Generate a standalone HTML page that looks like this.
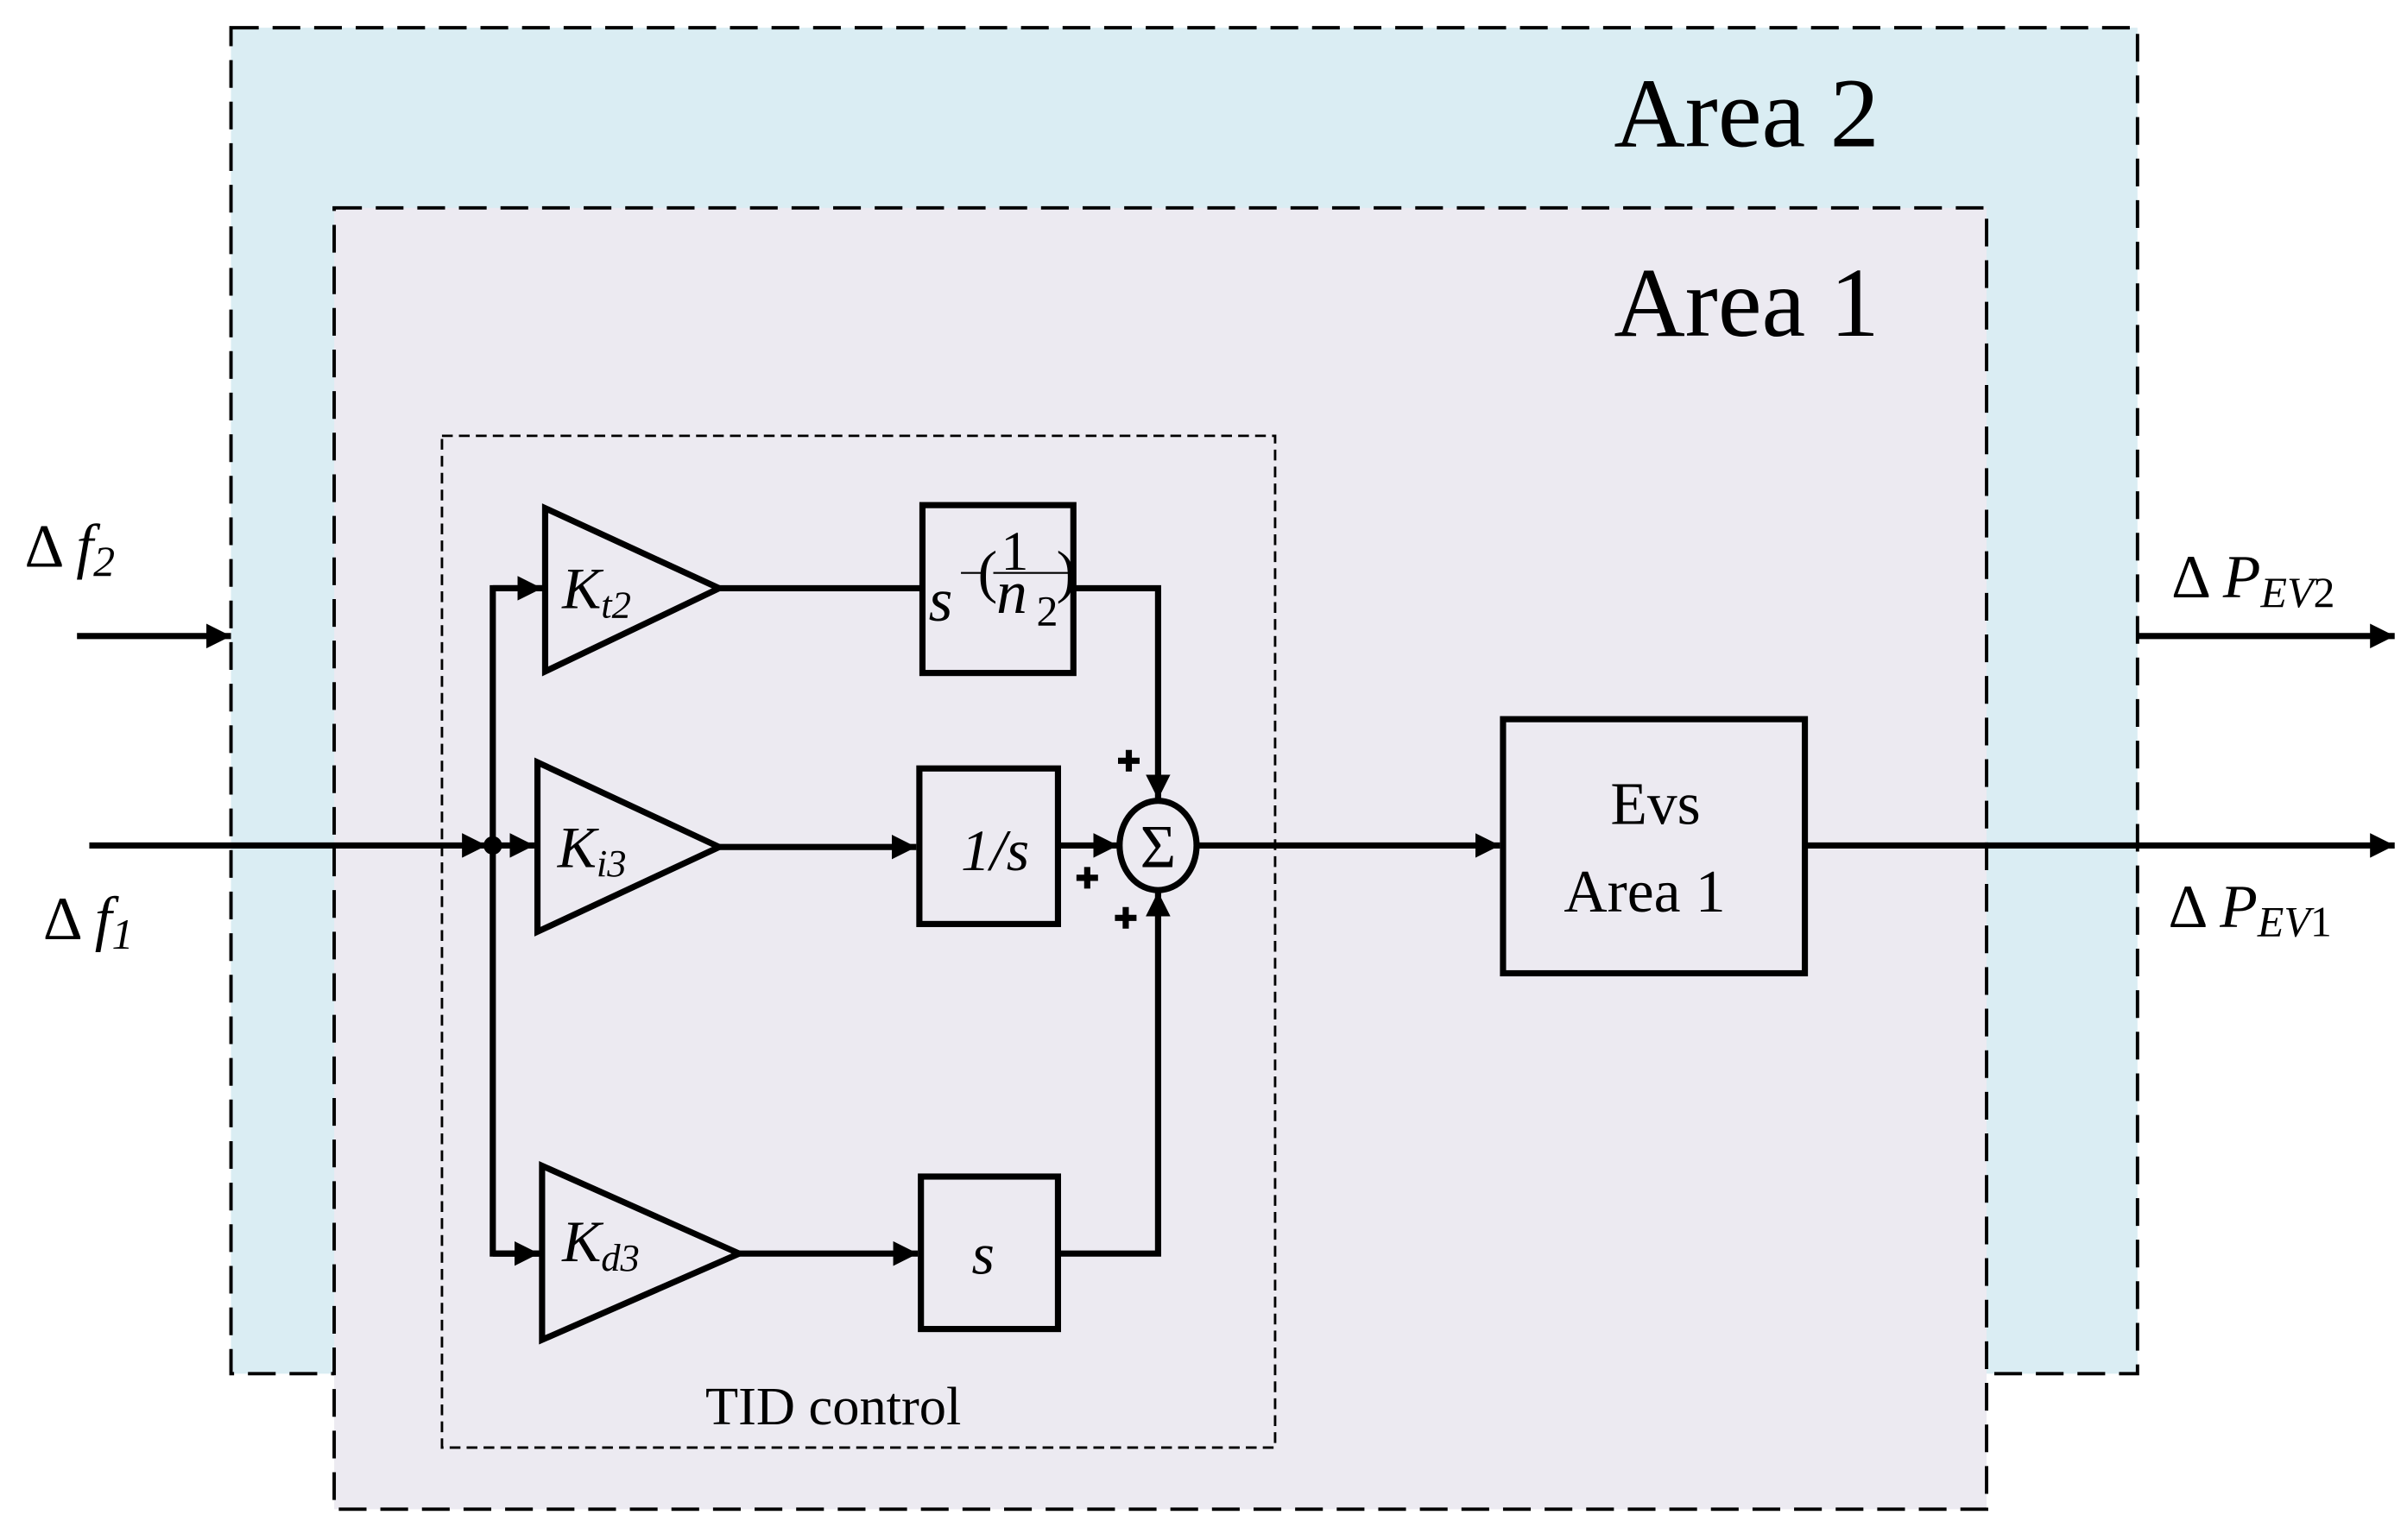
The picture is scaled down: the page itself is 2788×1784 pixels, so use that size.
<!DOCTYPE html>
<html><head><meta charset="utf-8"><style>html,body{margin:0;padding:0;background:#fff}svg{display:block}</style></head>
<body>
<svg width="2788" height="1784" viewBox="0 0 1563 1000" preserveAspectRatio="none" xmlns="http://www.w3.org/2000/svg" font-family="Liberation Serif, serif">
<defs>
<marker id="a" viewBox="0 0 10 10" refX="10" refY="5" markerWidth="4" markerHeight="4" orient="auto" markerUnits="strokeWidth"><path d="M0,0L10,5L0,10z" fill="#000"/></marker>
</defs>
<rect x="0" y="0" width="1563" height="1000" fill="#fff"/>
<rect x="150" y="18" width="1238" height="874" fill="#daedf3" stroke="#000" stroke-width="2.2" stroke-dasharray="18,9"/>
<rect x="217" y="135" width="1073" height="845" fill="#eceaf1" stroke="#000" stroke-width="2.2" stroke-dasharray="18,9"/>
<rect x="287" y="283" width="541" height="657" fill="none" stroke="#000" stroke-width="1.6" stroke-dasharray="7,4"/>
<text x="1048" y="95" font-size="64">Area 2</text>
<text x="1048" y="218" font-size="64">Area 1</text>
<text x="458" y="925" font-size="35">TID control</text>
<g stroke="#000" stroke-width="4" fill="none">
<polygon points="354,330 354,436 467,382"/>
<polygon points="349,495 349,605 467,550"/>
<polygon points="352,757 352,870 480,814"/>
<rect x="599" y="328" width="98" height="109"/>
<rect x="597" y="499" width="90" height="101"/>
<rect x="598" y="764" width="89" height="99"/>
<ellipse cx="752" cy="549" rx="25" ry="29"/>
<rect x="976" y="467" width="196" height="165"/>
<line x1="50" y1="413" x2="150" y2="413" marker-end="url(#a)"/>
<line x1="58" y1="549" x2="316" y2="549" marker-end="url(#a)"/>
<line x1="320" y1="549" x2="347" y2="549" marker-end="url(#a)"/>
<polyline points="354,382 320,382 320,814 351,814" />
<line x1="320" y1="382" x2="352" y2="382" marker-end="url(#a)"/>
<line x1="320" y1="814" x2="350" y2="814" marker-end="url(#a)"/>
<line x1="467" y1="382" x2="599" y2="382"/>
<polyline points="697,382 752,382 752,519" marker-end="url(#a)"/>
<line x1="467" y1="550" x2="595" y2="550" marker-end="url(#a)"/>
<line x1="687" y1="549" x2="726" y2="549" marker-end="url(#a)"/>
<line x1="480" y1="814" x2="596" y2="814" marker-end="url(#a)"/>
<polyline points="687,814 752,814 752,579" marker-end="url(#a)"/>
<line x1="777" y1="549" x2="974" y2="549" marker-end="url(#a)"/>
<line x1="1172" y1="549" x2="1555" y2="549" marker-end="url(#a)"/>
<line x1="1388" y1="413" x2="1555" y2="413" marker-end="url(#a)"/>
</g>
<circle cx="320" cy="549" r="6" fill="#000"/>
<g stroke="#000" stroke-width="4">
<path d="M726,494h14M733,487v14"/>
<path d="M699,570h14M706,563v14"/>
<path d="M724,596h14M731,589v14"/>
</g>
<text x="752" y="563" font-size="40" text-anchor="middle">Σ</text>
<g font-style="italic">
<text x="365" y="395" font-size="38">K<tspan font-size="25" dy="6">t2</tspan></text>
<text x="362" y="563" font-size="38">K<tspan font-size="25" dy="6">i3</tspan></text>
<text x="365" y="819" font-size="38">K<tspan font-size="25" dy="6">d3</tspan></text>
<text x="603" y="403" font-size="40">s</text>
<text x="647" y="398" font-size="40">n</text>
<text x="624" y="565" font-size="38">1/s</text>
<text x="631" y="827" font-size="38">s</text>
</g>
<text x="673" y="406" font-size="28">2</text>
<text x="650" y="370" font-size="36">1</text>
<line x1="645" y1="372" x2="696" y2="372" stroke="#000" stroke-width="1.2"/>
<line x1="624" y1="372" x2="640" y2="372" stroke="#000" stroke-width="1.2"/>
<text x="635" y="384" font-size="38">(</text><text x="686" y="384" font-size="38">)</text>
<text x="1075" y="535" font-size="39" text-anchor="middle">Evs</text>
<text x="1068" y="592" font-size="39" text-anchor="middle">Area 1</text>
<text x="16" y="368" font-size="40">Δ <tspan font-style="italic">f</tspan><tspan font-size="28" dy="6" font-style="italic">2</tspan></text>
<text x="28" y="610" font-size="40">Δ <tspan font-style="italic">f</tspan><tspan font-size="28" dy="6" font-style="italic">1</tspan></text>
<text x="1410" y="388" font-size="40">Δ <tspan font-style="italic">P</tspan><tspan font-size="28" dy="6" font-style="italic">EV</tspan><tspan font-size="28">2</tspan></text>
<text x="1408" y="602" font-size="40">Δ <tspan font-style="italic">P</tspan><tspan font-size="28" dy="6" font-style="italic">EV</tspan><tspan font-size="28">1</tspan></text>
</svg>
</body></html>
